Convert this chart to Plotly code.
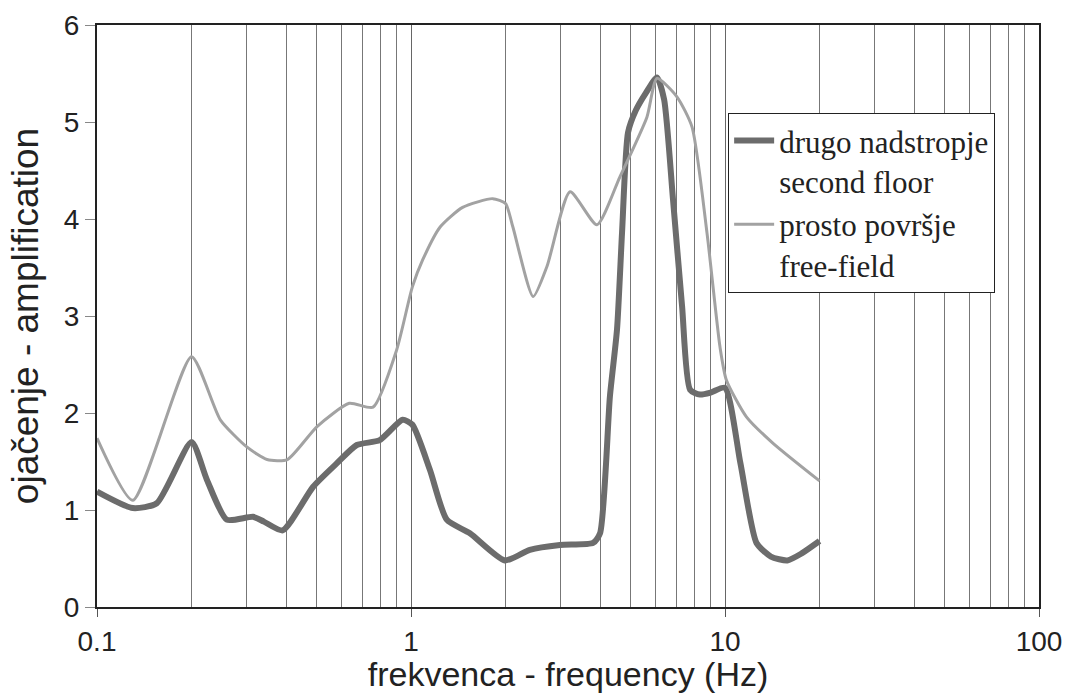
import plotly.graph_objects as go

# second floor (drugo nadstropje)
sf_freq = [0.1, 0.13, 0.155, 0.2, 0.224, 0.259, 0.314, 0.34, 0.39, 0.488, 0.58, 0.672, 0.795, 0.94, 1.01,
           1.15, 1.30, 1.54, 1.99, 2.39, 2.98, 3.80, 4.0, 4.30, 4.53, 4.70, 4.91, 5.2, 5.6, 6.07, 6.4,
           6.83, 7.3, 7.74, 8.32, 9.0, 10.0, 11.2, 12.6, 14.0, 15.8, 17.5, 20.0]
sf_amp = [1.19, 1.02, 1.07, 1.70, 1.31, 0.90, 0.93, 0.88, 0.79, 1.24, 1.48, 1.67, 1.72, 1.93, 1.88,
          1.41, 0.90, 0.76, 0.48, 0.59, 0.64, 0.66, 0.76, 2.17, 2.86, 3.86, 4.89, 5.12, 5.30, 5.46, 5.23,
          4.20, 3.10, 2.24, 2.19, 2.21, 2.26, 1.48, 0.66, 0.52, 0.48, 0.55, 0.68]

# free-field (prosto površje)
ff_freq = [0.1, 0.13, 0.2, 0.247, 0.3, 0.348, 0.404, 0.502, 0.636, 0.757, 0.9, 1.01, 1.09, 1.24, 1.46,
           1.82, 2.0, 2.11, 2.45, 2.71, 3.21, 3.91, 4.62, 5.64, 6.07, 7.03, 7.85, 8.76, 9.64, 10.1, 11.7,
           14.2, 20.0]
ff_amp = [1.74, 1.10, 2.58, 1.93, 1.65, 1.52, 1.52, 1.86, 2.10, 2.06, 2.65, 3.30, 3.58, 3.92, 4.12,
          4.21, 4.16, 3.92, 3.20, 3.51, 4.28, 3.94, 4.43, 5.05, 5.45, 5.26, 4.95, 3.86, 2.68, 2.34, 1.96,
          1.69, 1.30]

x_major = [0.1, 1, 10, 100]
x_major_text = ["0.1", "1", "10", "100"]
x_minor = [m * d for d in (0.1, 1, 10) for m in range(2, 10)] + [1, 10]
y_ticks = [0, 1, 2, 3, 4, 5, 6]

fig = go.Figure()
fig.add_trace(go.Scatter(
    x=sf_freq, y=sf_amp, mode="lines",
    name="drugo nadstropje<br>second floor",
    line=dict(color="#6c6c6c", width=6, shape="spline", smoothing=0.6),
))
fig.add_trace(go.Scatter(
    x=ff_freq, y=ff_amp, mode="lines",
    name="prosto površje<br>free-field",
    line=dict(color="#a2a2a2", width=3, shape="spline", smoothing=0.6),
))

axis_font = dict(family="Liberation Sans, Arial, sans-serif", size=28, color="#222")
xtitle_font = dict(family="Liberation Sans, Arial, sans-serif", size=34, color="#222")
ytitle_font = dict(family="Liberation Sans, Arial, sans-serif", size=37, color="#222")

fig.update_layout(
    width=1069, height=693,
    margin=dict(l=97, r=30, t=25, b=86, autoexpand=False),
    paper_bgcolor="white", plot_bgcolor="white",
    showlegend=True,
    legend=dict(
        x=0.670, y=0.849, xanchor="left", yanchor="top",
        bgcolor="white", bordercolor="#222", borderwidth=1,
        font=dict(family="Liberation Serif, Times New Roman, serif", size=31, color="#222"),
        valign="top", tracegroupgap=0, itemwidth=40,
    ),
    xaxis=dict(
        type="log", range=[-1, 2], automargin=False,
        tickvals=x_major, ticktext=x_major_text,
        ticks="outside", ticklen=8, tickcolor="#555",
        showgrid=True, gridcolor="#666", gridwidth=1,
        minor=dict(tickvals=x_minor, showgrid=True, gridcolor="#777", gridwidth=1, ticks=""),
        showline=True, linecolor="#222", linewidth=2, mirror=True,
        tickfont=axis_font,
        title=dict(text="frekvenca - frequency (Hz)", font=xtitle_font, standoff=4),
        zeroline=False,
    ),
    yaxis=dict(
        range=[0, 6], tickvals=y_ticks, automargin=False,
        ticks="outside", ticklen=10, tickcolor="#888",
        showgrid=False,
        showline=True, linecolor="#222", linewidth=2, mirror=True,
        tickfont=axis_font,
        title=dict(text="ojačenje - amplification", font=ytitle_font, standoff=14),
        zeroline=False,
    ),
)

fig.write_html("out.html", config={"displayModeBar": False},
               post_script="document.body.style.margin='0';")
